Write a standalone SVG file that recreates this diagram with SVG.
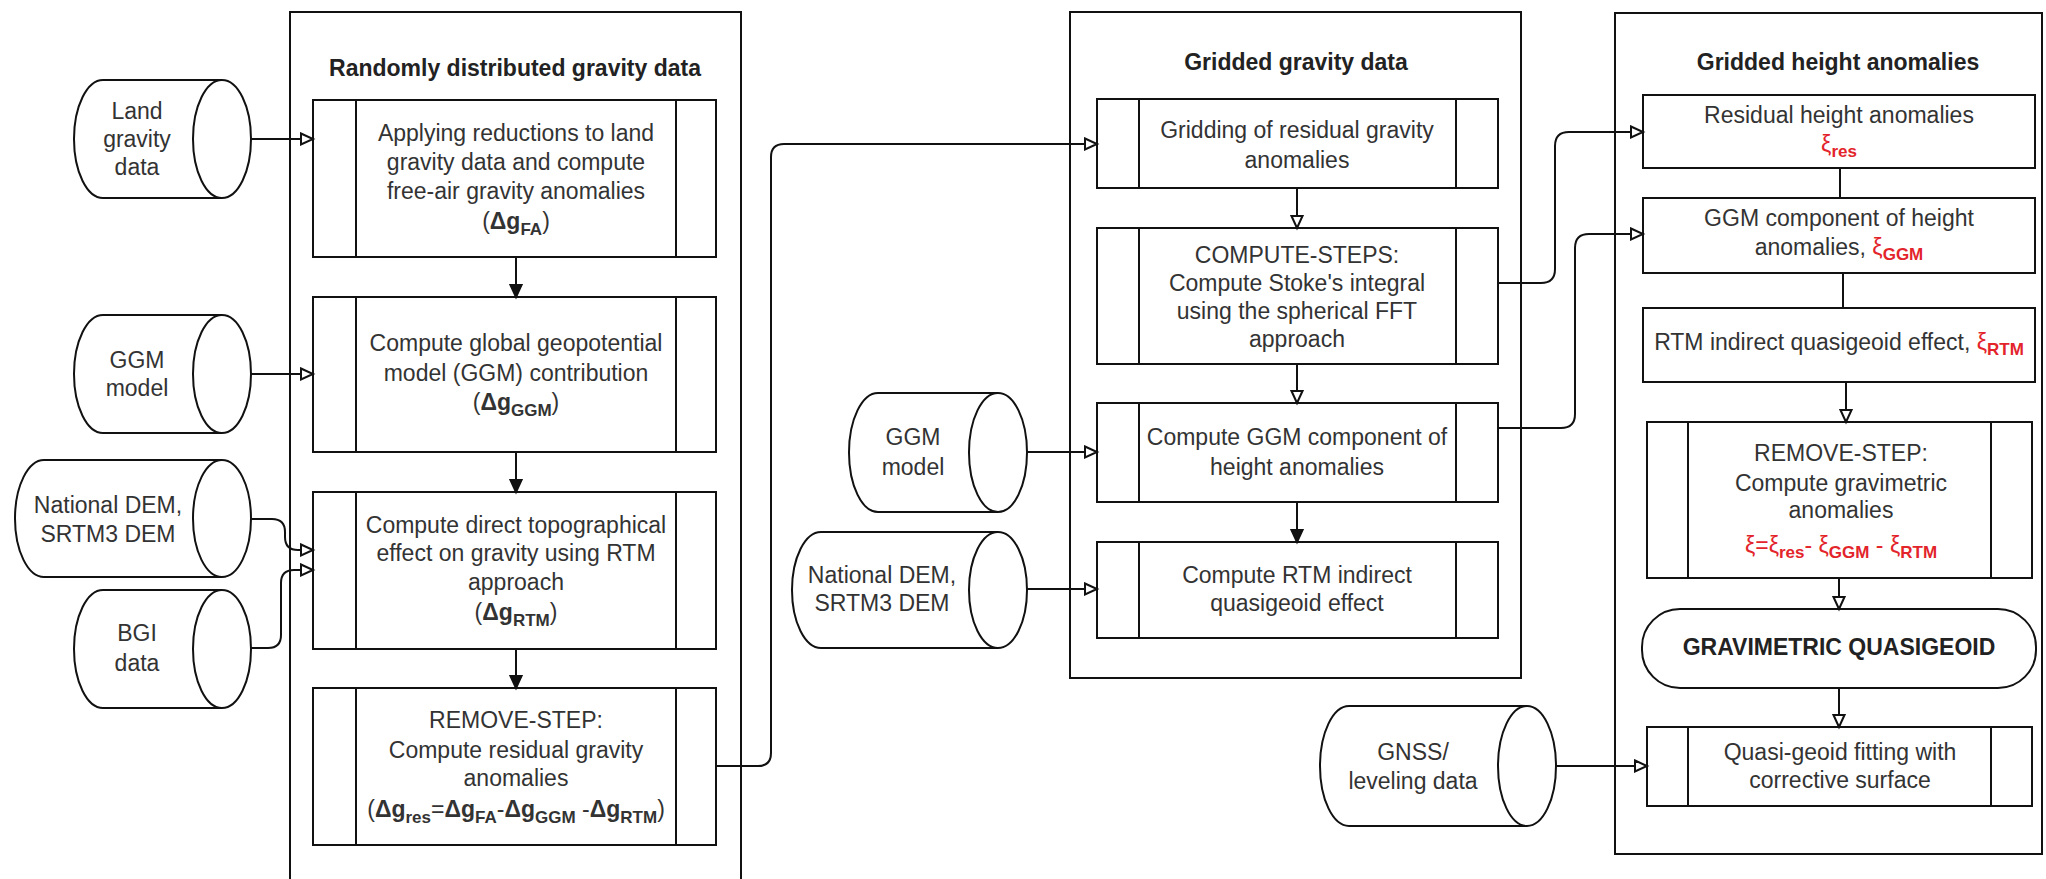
<svg xmlns="http://www.w3.org/2000/svg" width="2046" height="879" viewBox="0 0 2046 879">
<style>
.cont{fill:none;stroke:#111;stroke-width:2}
.box{fill:#fff;stroke:#111;stroke-width:2}
.ln{fill:none;stroke:#111;stroke-width:2}
.cyl{fill:#fff;stroke:#111;stroke-width:2}
.conn{fill:none;stroke:#111;stroke-width:2}
.t{font-family:"Liberation Sans",Arial,sans-serif;font-size:23px;fill:#333;text-anchor:middle}
.ti{font-family:"Liberation Sans",Arial,sans-serif;font-size:23px;font-weight:bold;fill:#222;text-anchor:middle}
.b{font-weight:bold}
.sub{font-size:17px;font-weight:bold}
.red{fill:#e3242b}
</style>
<defs>
<marker id="ao" markerUnits="userSpaceOnUse" markerWidth="16" markerHeight="14" refX="13" refY="7" orient="auto"><path d="M1,1.5 L13,7 L1,12.5 Z" fill="#fff" stroke="#111" stroke-width="2"/></marker>
<marker id="af" markerUnits="userSpaceOnUse" markerWidth="16" markerHeight="14" refX="13" refY="7" orient="auto"><path d="M1,1.5 L13,7 L1,12.5 Z" fill="#111" stroke="#111" stroke-width="2"/></marker>
</defs>
<rect width="2046" height="879" fill="#fff"/>

<g id="container-random">
<rect class="cont" x="290" y="12" width="451" height="880"/>
<text class="ti" x="515" y="76">Randomly distributed gravity data</text>
</g>
<g id="container-gridded">
<rect class="cont" x="1070" y="12" width="451" height="666"/>
<text class="ti" x="1296" y="70">Gridded gravity data</text>
</g>
<g id="container-height">
<rect class="cont" x="1615" y="13" width="427" height="841"/>
<text class="ti" x="1838" y="70">Gridded height anomalies</text>
</g>

<g id="cyl-land">
<path class="cyl" d="M103,80 H222 A29,59 0 0 1 222,198 H103 A29,59 0 0 1 103,80 Z"/>
<path class="ln" d="M222,80 A29,59 0 0 0 222,198"/>
<text class="t"><tspan x="137" y="119">Land</tspan><tspan x="137" y="147">gravity</tspan><tspan x="137" y="175">data</tspan></text>
</g>
<g id="cyl-ggm1">
<path class="cyl" d="M103,315 H222 A29,59 0 0 1 222,433 H103 A29,59 0 0 1 103,315 Z"/>
<path class="ln" d="M222,315 A29,59 0 0 0 222,433"/>
<text class="t"><tspan x="137" y="368">GGM</tspan><tspan x="137" y="396">model</tspan></text>
</g>
<g id="cyl-dem1">
<path class="cyl" d="M44,460 H222 A29,58.5 0 0 1 222,577 H44 A29,58.5 0 0 1 44,460 Z"/>
<path class="ln" d="M222,460 A29,58.5 0 0 0 222,577"/>
<text class="t"><tspan x="108" y="513">National DEM,</tspan><tspan x="108" y="542">SRTM3 DEM</tspan></text>
</g>
<g id="cyl-bgi">
<path class="cyl" d="M103,590 H222 A29,59 0 0 1 222,708 H103 A29,59 0 0 1 103,590 Z"/>
<path class="ln" d="M222,590 A29,59 0 0 0 222,708"/>
<text class="t"><tspan x="137" y="641">BGI</tspan><tspan x="137" y="671">data</tspan></text>
</g>

<g id="box-reductions">
<rect class="box" x="313" y="100" width="403" height="157"/>
<path class="ln" d="M356,100 V257 M676,100 V257"/>
<text class="t"><tspan x="516" y="141">Applying reductions to land</tspan><tspan x="516" y="170">gravity data and compute</tspan><tspan x="516" y="199">free-air gravity anomalies</tspan><tspan x="516" y="229">(<tspan class="b">Δg</tspan><tspan class="sub" dy="6">FA</tspan><tspan dy="-6">)</tspan></tspan></text>
</g>
<g id="box-ggm-contrib">
<rect class="box" x="313" y="297" width="403" height="155"/>
<path class="ln" d="M356,297 V452 M676,297 V452"/>
<text class="t"><tspan x="516" y="351">Compute global geopotential</tspan><tspan x="516" y="381">model (GGM) contribution</tspan><tspan x="516" y="410">(<tspan class="b">Δg</tspan><tspan class="sub" dy="6">GGM</tspan><tspan dy="-6">)</tspan></tspan></text>
</g>
<g id="box-rtm-direct">
<rect class="box" x="313" y="492" width="403" height="157"/>
<path class="ln" d="M356,492 V649 M676,492 V649"/>
<text class="t"><tspan x="516" y="533">Compute direct topographical</tspan><tspan x="516" y="561">effect on gravity using RTM</tspan><tspan x="516" y="590">approach</tspan><tspan x="516" y="620">(<tspan class="b">Δg</tspan><tspan class="sub" dy="6">RTM</tspan><tspan dy="-6">)</tspan></tspan></text>
</g>
<g id="box-remove1">
<rect class="box" x="313" y="688" width="403" height="157"/>
<path class="ln" d="M356,688 V845 M676,688 V845"/>
<text class="t"><tspan x="516" y="728">REMOVE-STEP:</tspan><tspan x="516" y="758">Compute residual gravity</tspan><tspan x="516" y="786">anomalies</tspan><tspan x="516" y="817">(<tspan class="b">Δg</tspan><tspan class="sub" dy="6">res</tspan><tspan dy="-6">=</tspan><tspan class="b">Δg</tspan><tspan class="sub" dy="6">FA</tspan><tspan dy="-6">-</tspan><tspan class="b">Δg</tspan><tspan class="sub" dy="6">GGM</tspan><tspan dy="-6"> -</tspan><tspan class="b">Δg</tspan><tspan class="sub" dy="6">RTM</tspan><tspan dy="-6">)</tspan></tspan></text>
</g>

<g id="box-gridding">
<rect class="box" x="1097" y="99" width="401" height="89"/>
<path class="ln" d="M1139,99 V188 M1456,99 V188"/>
<text class="t"><tspan x="1297" y="138">Gridding of residual gravity</tspan><tspan x="1297" y="168">anomalies</tspan></text>
</g>
<g id="box-stokes">
<rect class="box" x="1097" y="228" width="401" height="136"/>
<path class="ln" d="M1139,228 V364 M1456,228 V364"/>
<text class="t"><tspan x="1297" y="263">COMPUTE-STEPS:</tspan><tspan x="1297" y="291">Compute Stoke's integral</tspan><tspan x="1297" y="319">using the spherical FFT</tspan><tspan x="1297" y="347">approach</tspan></text>
</g>
<g id="box-ggm-height">
<rect class="box" x="1097" y="403" width="401" height="99"/>
<path class="ln" d="M1139,403 V502 M1456,403 V502"/>
<text class="t"><tspan x="1297" y="445">Compute GGM component of</tspan><tspan x="1297" y="475">height anomalies</tspan></text>
</g>
<g id="box-rtm-indirect">
<rect class="box" x="1097" y="542" width="401" height="96"/>
<path class="ln" d="M1139,542 V638 M1456,542 V638"/>
<text class="t"><tspan x="1297" y="583">Compute RTM indirect</tspan><tspan x="1297" y="611">quasigeoid effect</tspan></text>
</g>

<g id="cyl-ggm2">
<path class="cyl" d="M878,393 H998 A29,59.5 0 0 1 998,512 H878 A29,59.5 0 0 1 878,393 Z"/>
<path class="ln" d="M998,393 A29,59.5 0 0 0 998,512"/>
<text class="t"><tspan x="913" y="445">GGM</tspan><tspan x="913" y="475">model</tspan></text>
</g>
<g id="cyl-dem2">
<path class="cyl" d="M821,532 H998 A29,58 0 0 1 998,648 H821 A29,58 0 0 1 821,532 Z"/>
<path class="ln" d="M998,532 A29,58 0 0 0 998,648"/>
<text class="t"><tspan x="882" y="583">National DEM,</tspan><tspan x="882" y="611">SRTM3 DEM</tspan></text>
</g>
<g id="cyl-gnss">
<path class="cyl" d="M1349,706 H1527 A29,60 0 0 1 1527,826 H1349 A29,60 0 0 1 1349,706 Z"/>
<path class="ln" d="M1527,706 A29,60 0 0 0 1527,826"/>
<text class="t"><tspan x="1413" y="760">GNSS/</tspan><tspan x="1413" y="789">leveling data</tspan></text>
</g>

<g id="box-res-height">
<rect class="box" x="1643" y="95" width="392" height="73"/>
<text class="t"><tspan x="1839" y="123">Residual height anomalies</tspan><tspan x="1839" y="152" class="red">ξ<tspan class="sub" dy="5">res</tspan></tspan></text>
</g>
<g id="box-ggm-comp">
<rect class="box" x="1643" y="198" width="392" height="75"/>
<text class="t"><tspan x="1839" y="226">GGM component of height</tspan><tspan x="1839" y="255">anomalies, <tspan class="red">ξ</tspan><tspan class="red sub" dy="5">GGM</tspan></tspan></text>
</g>
<g id="box-rtm-effect">
<rect class="box" x="1643" y="308" width="392" height="74"/>
<text class="t" x="1839" y="350">RTM indirect quasigeoid effect, <tspan class="red">ξ</tspan><tspan class="red sub" dy="5">RTM</tspan></text>
</g>
<g id="box-remove2">
<rect class="box" x="1647" y="422" width="385" height="156"/>
<path class="ln" d="M1688,422 V578 M1991,422 V578"/>
<text class="t"><tspan x="1841" y="461">REMOVE-STEP:</tspan><tspan x="1841" y="491">Compute gravimetric</tspan><tspan x="1841" y="518">anomalies</tspan><tspan x="1841" y="553" class="red">ξ=ξ<tspan class="sub" dy="5">res</tspan><tspan dy="-5">- ξ</tspan><tspan class="sub" dy="5">GGM</tspan><tspan dy="-5"> - ξ</tspan><tspan class="sub" dy="5">RTM</tspan></tspan></text>
</g>
<g id="term-quasigeoid">
<rect class="box" x="1642" y="609" width="394" height="79" rx="38" ry="38"/>
<text class="ti" x="1839" y="655">GRAVIMETRIC QUASIGEOID</text>
</g>
<g id="box-fitting">
<rect class="box" x="1647" y="727" width="385" height="79"/>
<path class="ln" d="M1688,727 V806 M1991,727 V806"/>
<text class="t"><tspan x="1840" y="760">Quasi-geoid fitting with</tspan><tspan x="1840" y="788">corrective surface</tspan></text>
</g>

<g id="connectors">
<path class="conn" d="M251,139 H313" marker-end="url(#ao)"/>
<path class="conn" d="M251,374 H313" marker-end="url(#ao)"/>
<path class="conn" d="M251,519 H272 Q285,519 285,532 V537 Q285,550 298,550 H313" marker-end="url(#ao)"/>
<path class="conn" d="M251,648 H268 Q281,648 281,635 V583 Q281,570 294,570 H313" marker-end="url(#ao)"/>
<path class="conn" d="M516,257 V297" marker-end="url(#af)"/>
<path class="conn" d="M516,452 V492" marker-end="url(#af)"/>
<path class="conn" d="M516,649 V688" marker-end="url(#af)"/>
<path class="conn" d="M716,766 H758 Q771,766 771,753 V157 Q771,144 784,144 H1097" marker-end="url(#ao)"/>
<path class="conn" d="M1297,188 V228" marker-end="url(#ao)"/>
<path class="conn" d="M1297,364 V403" marker-end="url(#ao)"/>
<path class="conn" d="M1297,502 V542" marker-end="url(#af)"/>
<path class="conn" d="M1027,452 H1097" marker-end="url(#ao)"/>
<path class="conn" d="M1027,589 H1097" marker-end="url(#ao)"/>
<path class="conn" d="M1498,283 H1541 Q1555,283 1555,269 V146 Q1555,132 1569,132 H1643" marker-end="url(#ao)"/>
<path class="conn" d="M1498,428 H1561 Q1575,428 1575,414 V248 Q1575,234 1589,234 H1643" marker-end="url(#ao)"/>
<path class="conn" d="M1840,168 V198"/>
<path class="conn" d="M1843,273 V308"/>
<path class="conn" d="M1846,382 V422" marker-end="url(#ao)"/>
<path class="conn" d="M1839,578 V609" marker-end="url(#ao)"/>
<path class="conn" d="M1839,688 V727" marker-end="url(#ao)"/>
<path class="conn" d="M1556,766 H1647" marker-end="url(#ao)"/>
</g>
</svg>
